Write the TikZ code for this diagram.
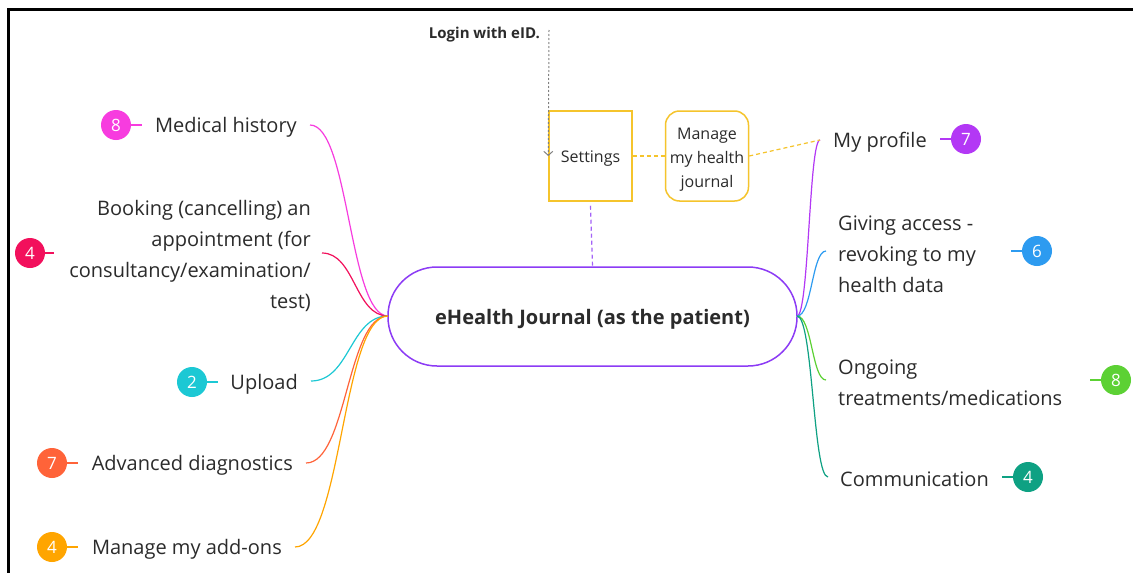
\documentclass[tikz,border=0pt]{standalone}
\usepackage{fontspec}
\setmainfont{Open Sans}
\usetikzlibrary{arrows.meta}
\definecolor{txt}{HTML}{2B2B2B}
\definecolor{cpink}{HTML}{F73CDF}
\definecolor{ccrim}{HTML}{F2105C}
\definecolor{ccyan}{HTML}{1CC8D4}
\definecolor{cored}{HTML}{FF6339}
\definecolor{corange}{HTML}{FFA500}
\definecolor{cpurple}{HTML}{8C3BF5}
\definecolor{cviolet}{HTML}{B338F5}
\definecolor{cblue}{HTML}{2D9BF0}
\definecolor{cgreen}{HTML}{5CD134}
\definecolor{cteal}{HTML}{0EA183}
\definecolor{cyellow}{HTML}{F5C42C}
\newcommand{\lowr}[2]{\raisebox{-#1}[\height][\depth]{\begin{tabular}{@{}c@{}}#2\end{tabular}}}
\newcommand{\lowone}[2]{\raisebox{-#1}[\height][\depth]{#2}}
\tikzset{
  lbl/.style={text=txt, font=\fontsize{20}{31}\selectfont, inner sep=0pt, yshift=-2pt},
  badge/.style={circle, fill=#1, text=white, minimum size=30pt, inner sep=0pt, font=\fontsize{17}{20}\selectfont},
  branch/.style={draw=#1, line width=1.2pt},
  tick/.style={draw=#1, line width=1.2pt},
  ybox/.style={draw=cyellow, line width=1.5pt, minimum width=83pt, minimum height=90pt, text=txt, font=\fontsize{16}{24}\selectfont, align=center, inner sep=0pt},
}
\begin{document}
\begin{tikzpicture}[x=1pt,y=-1pt]
\useasboundingbox (0,0) rectangle (1133,573);
\fill[white] (0,0) rectangle (1133,573);
% frame
\draw[line width=3pt, black] (8,573) -- (8,9.5) -- (1133,9.5);

% central
\node[draw=cpurple, line width=1.5pt, rounded corners=49pt, minimum width=409pt, minimum height=99pt, text=txt, font=\bfseries\fontsize{20}{24}\selectfont, inner sep=0pt] (c) at (592.5,316.5) {\lowone{3pt}{eHealth Journal (as the patient)}};

% top boxes
\node[lbl, font=\bfseries\fontsize{15}{18}\selectfont, anchor=east, yshift=0pt] (login) at (540,33) {Login with eID.};
\coordinate (loginpt) at (549,30);
\node[ybox] (set) at (590.5,156) {\lowone{3pt}{Settings}};
\node[ybox, rounded corners=14pt] (mhj) at (707,156) {\lowr{3pt}{Manage\\my health\\journal}};

% left branch ends
\coordinate (e1) at (310,125);
\coordinate (e2) at (322,253);
\coordinate (e3) at (311,381);
\coordinate (e4) at (306,463);
\coordinate (e5) at (295,547);
% right branch ends
\coordinate (r1) at (820,140);
\coordinate (r2) at (826,251);
\coordinate (r3) at (826,380);
\coordinate (r4) at (828,477);
\coordinate (cl) at (388,316);
\coordinate (cr) at (797,316);

% left labels
\node[lbl, anchor=east] (t1) at (297,125) {Medical history};
\node[lbl, anchor=east, align=right] (t2) at (311,254) {Booking (cancelling) an\\appointment (for\\consultancy/examination/\\test)};
\node[lbl, anchor=east] (t3) at (298,382) {Upload};
\node[lbl, anchor=east] (t4) at (293,463) {Advanced diagnostics};
\node[lbl, anchor=east] (t5) at (282,547) {Manage my add-ons};
% right labels
\node[lbl, anchor=west] (u1) at (833,140) {My profile};
\node[lbl, anchor=west, align=left] (u2) at (838,252) {Giving access -\\revoking to my\\health data};
\node[lbl, anchor=west, align=left] (u3) at (838,381) {Ongoing\\treatments/medications};
\node[lbl, anchor=west] (u4) at (840,477) {Communication};

% badges
\node[badge=cpink] (b1) at (116,125) {8};
\node[badge=ccrim] (b2) at (30,253) {4};
\node[badge=ccyan] (b3) at (192,382) {2};
\node[badge=cored] (b4) at (52,463) {7};
\node[badge=corange] (b5) at (52,547) {4};
\node[badge=cviolet] (a1) at (966,139) {7};
\node[badge=cblue] (a2) at (1037,251) {6};
\node[badge=cgreen] (a3) at (1116,380) {8};
\node[badge=cteal] (a4) at (1028,477) {4};

% badge ticks
\coordinate (k1) at (142,125); \draw[tick=cpink] (b1) -- (k1);
\coordinate (k2) at (54,253); \draw[tick=ccrim] (b2) -- (k2);
\coordinate (k3) at (218,382); \draw[tick=ccyan] (b3) -- (k3);
\coordinate (k4) at (78,463); \draw[tick=cored] (b4) -- (k4);
\coordinate (k5) at (78,547); \draw[tick=corange] (b5) -- (k5);
\coordinate (q1) at (940,139); \draw[tick=cviolet] (a1) -- (q1);
\coordinate (q2) at (1011,251); \draw[tick=cblue] (a2) -- (q2);
\coordinate (q3) at (1090,380); \draw[tick=cgreen] (a3) -- (q3);
\coordinate (q4) at (1002,477); \draw[tick=cteal] (a4) -- (q4);

% branches left
\draw[branch=cpink] (cl) .. controls (349,316) and (349,125) .. (e1);
\draw[branch=ccrim] (cl) .. controls (355,316) and (355,253) .. (e2);
\draw[branch=ccyan] (cl) .. controls (350,316) and (350,381) .. (e3);
\draw[branch=cored] (cl) .. controls (347,316) and (347,463) .. (e4);
\draw[branch=corange] (cl) .. controls (342,316) and (342,547) .. (e5);
% branches right
\draw[branch=cviolet] (cr) .. controls (809,316) and (809,140) .. (r1);
\draw[branch=cblue] (cr) .. controls (812,316) and (812,251) .. (r2);
\draw[branch=cgreen] (cr) .. controls (812,316) and (812,380) .. (r3);
\draw[branch=cteal] (cr) .. controls (813,316) and (813,477) .. (r4);

% dashed links
\draw[gray, line width=1pt, dash pattern=on 2pt off 2pt, -{Straight Barb[length=4pt,width=9pt]}] (loginpt) -- (set.west);
\draw[cyellow, line width=1.2pt, dash pattern=on 4pt off 3pt] (set.east) -- (mhj.west);
\draw[cyellow, line width=1.2pt, dash pattern=on 4pt off 3pt] (mhj.east) -- (r1);
\draw[cpurple!80, line width=1.2pt, dash pattern=on 4pt off 3pt] (set.south) ++(0,4) coordinate (sb) (sb) -- (c.north);
\end{tikzpicture}
\end{document}
